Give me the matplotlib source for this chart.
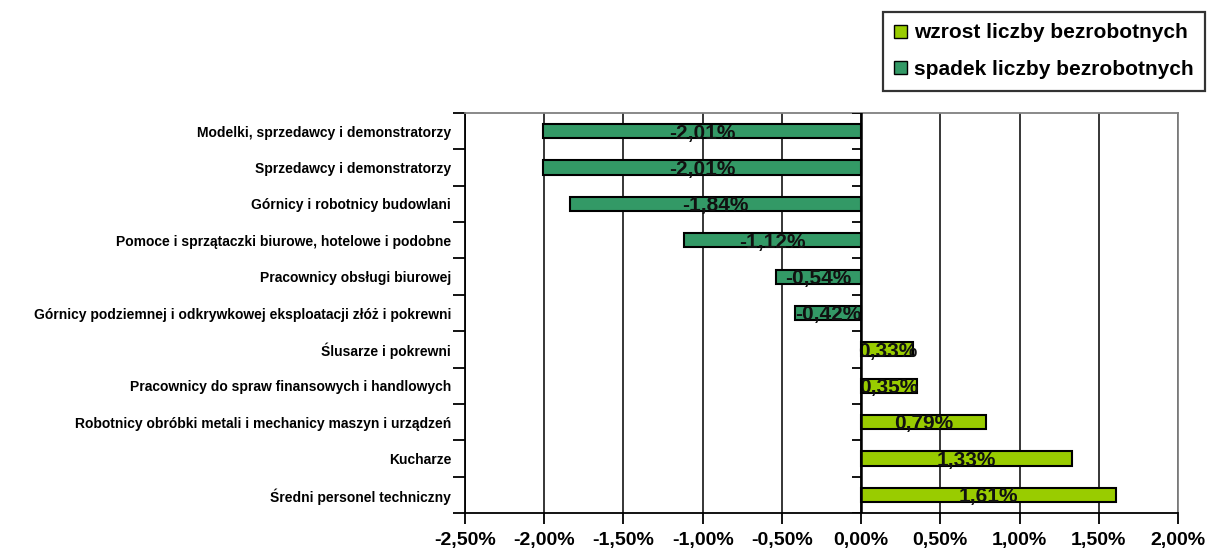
"""Zmiana liczby bezrobotnych wg zawodów - wykres słupkowy poziomy."""
import numpy as np
import matplotlib
matplotlib.use('Agg')
import matplotlib.pyplot as plt
from matplotlib.patches import Patch
from matplotlib.ticker import MultipleLocator, FuncFormatter

plt.rcParams.update({'font.family': ['Liberation Sans', 'DejaVu Sans'], 'font.weight': 'bold'})
UP, DOWN = '#99CC00', '#339966'

zawody = ['Modelki, sprzedawcy i demonstratorzy',
          'Sprzedawcy i demonstratorzy',
          'Górnicy i robotnicy budowlani',
          'Pomoce i sprzątaczki biurowe, hotelowe i podobne',
          'Pracownicy obsługi biurowej',
          'Górnicy podziemnej i odkrywkowej eksploatacji złóż i pokrewni',
          'Ślusarze i pokrewni',
          'Pracownicy do spraw finansowych i handlowych',
          'Robotnicy obróbki metali i mechanicy maszyn i urządzeń',
          'Kucharze',
          'Średni personel techniczny']
zmiana = [-2.01, -2.01, -1.84, -1.12, -0.54, -0.42, 0.33, 0.35, 0.79, 1.33, 1.61]
legenda = ['wzrost liczby bezrobotnych', 'spadek liczby bezrobotnych']

fig = plt.figure(figsize=(12.09, 5.51), dpi=100)
ax = fig.add_axes([465/1209, 1-513/551, (1178-465)/1209, 400/551])

y = np.arange(len(zawody))
cols = [UP if v > 0 else DOWN for v in zmiana]
ax.barh(y, zmiana, height=0.39, color=cols, edgecolor='black', lw=1.5, zorder=3)
for yi, v in zip(y, zmiana):
    ax.text(v/2, yi + 0.05, f'{v:.2f}%'.replace('.', ','), ha='center', va='center',
            fontsize=15, fontweight='bold', color='#111111', zorder=4)

ax.set_xlim(-2.5, 2.0)
ax.set_ylim(len(zawody)-0.5, -0.5)
ax.xaxis.set_major_locator(MultipleLocator(0.5))
ax.xaxis.set_major_formatter(FuncFormatter(lambda v, p: f'{v:.2f}%'.replace('.', ',')))
ax.grid(axis='x', color='black', lw=1.1, zorder=1)
ax.axvline(0, color='black', lw=1.8, zorder=5)

# ticks between categories, on the left border and on the zero axis
bounds = np.arange(len(zawody)+1) - 0.5
ax.set_yticks(y)
ax.set_yticklabels(zawody, fontsize=10, fontweight='bold')
ax.set_yticks(bounds, minor=True)
ax.tick_params(axis='y', which='major', length=0, pad=10)
ax.tick_params(axis='y', which='minor', length=9, width=1.3, direction='out')
ax.hlines(bounds, -0.06, 0, color='black', lw=1.3, zorder=5)
ax.tick_params(axis='x', length=8, width=1.3, labelsize=14, pad=6)
for lab in ax.get_xticklabels():
    lab.set_fontweight('bold')

ax.spines['left'].set_color('black'); ax.spines['left'].set_linewidth(1.3)
ax.spines['bottom'].set_color('black'); ax.spines['bottom'].set_linewidth(1.3)
for s in ['top', 'right']:
    ax.spines[s].set_color('#808080'); ax.spines[s].set_linewidth(1.3)

handles = [Patch(facecolor=UP, edgecolor='black'), Patch(facecolor=DOWN, edgecolor='black')]
leg = fig.legend(handles, legenda, loc='upper right', bbox_to_anchor=(1205/1209, 1-12/551),
                 prop={'size': 15, 'weight': 'bold'}, fancybox=False, edgecolor='black',
                 handlelength=0.6, handleheight=0.6, handletextpad=0.35, labelspacing=0.85,
                 borderpad=0.55, borderaxespad=0)
leg.get_frame().set_linewidth(1.6)

fig.savefig('out.png', dpi=100)
